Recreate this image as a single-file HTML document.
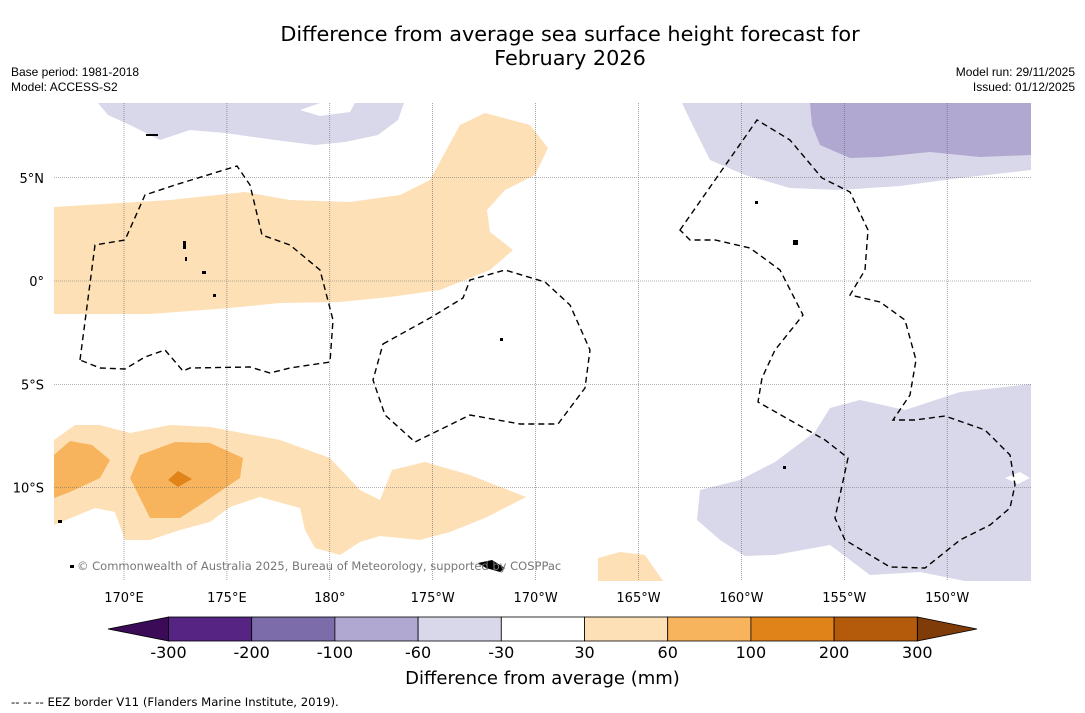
<!DOCTYPE html>
<html><head><meta charset="utf-8"><style>
body{margin:0;background:#fff;font-family:"DejaVu Sans","Liberation Sans",sans-serif;}
#wrap{position:relative;width:1085px;height:713px;overflow:hidden;background:#fff}
.t{position:absolute;white-space:nowrap;color:#000}
</style></head><body>
<div id="wrap">
<div class="t" style="left:0;width:1140px;top:22px;text-align:center;font-size:20.8px;line-height:24px">Difference from average sea surface height forecast for<br>February 2026</div>
<div class="t" style="left:11px;top:65px;font-size:12px;line-height:15px;font-family:'Liberation Sans',sans-serif">Base period: 1981-2018<br>Model: ACCESS-S2</div>
<div class="t" style="right:10px;top:65px;font-size:12px;line-height:15px;text-align:right;font-family:'Liberation Sans',sans-serif">Model run: 29/11/2025<br>Issued: 01/12/2025</div>
<svg id="map" width="1085" height="713" style="position:absolute;left:0;top:0">
<g>
<polygon fill="#d8d8ea" points="98,103 404,103 398,120 378,135 345,142 315,145 275,140 225,133 190,130 160,140 130,125 108,115"/>
<polygon fill="#fff" points="300,110 320,103 355,103 350,112 320,116"/>
<polygon fill="#d8d8ea" points="682,103 1031,103 1031,170 960,178 900,186 840,190 790,188 745,175 710,160 695,130"/>
<polygon fill="#b0a8d0" points="810,103 1031,103 1031,155 980,157 930,152 880,157 850,158 820,145 812,125"/>
<polygon fill="#d8d8ea" points="1031,384 1031,581 965,581 920,572 870,575 830,545 775,555 745,556 720,540 697,520 700,490 740,480 775,462 815,432 830,408 860,400 905,410 960,392"/>
<polygon fill="#fde0b6" points="54,207 170,200 245,192 290,200 350,202 400,195 430,180 460,125 485,113 530,125 548,148 535,175 505,190 487,210 490,232 513,250 490,270 440,290 390,297 340,302 280,303 230,308 150,314 54,314"/>
<polygon fill="#fde0b6" points="54,440 75,425 100,425 130,433 170,425 210,427 280,440 330,458 360,490 380,500 392,470 425,462 470,475 526,497 485,518 450,532 420,540 380,536 360,542 340,555 315,548 305,530 300,508 260,497 230,507 210,522 180,530 150,540 125,540 115,512 95,508 54,525"/>
<polygon fill="#f8b45c" points="54,455 70,441 92,445 110,460 100,478 70,492 54,498"/>
<polygon fill="#f8b45c" points="130,478 140,455 175,442 210,443 243,458 240,478 200,505 180,518 150,518 140,498"/>
<polygon fill="#e0841a" points="168,480 178,471 192,479 178,487"/>
<polygon fill="#fde0b6" points="598,558 620,552 645,555 663,581 598,581"/>
<polygon fill="#fff" points="1005,478 1020,472 1030,478 1018,484"/>
</g>
<g id="grid"></g>
<g fill="none" stroke="#000" stroke-width="1.4" stroke-dasharray="6,4">
<path d="M80,360 L95,245 L125,240 L145,195 L175,185 L237,166 L250,185 L262,235 L290,245 L320,270 L333,320 L330,362 L290,368 L270,373 L250,367 L190,368 L183,371 L165,350 L145,357 L125,369 L100,368 Z"/>
<path d="M383,344 L430,318 L463,298 L470,280 L505,270 L545,282 L570,305 L590,350 L585,388 L558,424 L520,424 L470,415 L415,442 L385,415 L373,380 Z"/>
<path d="M680,230 L757,120 L790,140 L822,178 L850,192 L868,230 L865,270 L850,295 L880,302 L905,320 L916,360 L910,395 L893,420 L915,420 L945,416 L985,430 L1010,455 L1015,485 L1010,508 L990,525 L960,540 L925,568 L890,567 L845,540 L835,518 L848,458 L825,440 L758,402 L762,378 L775,350 L803,315 L780,270 L750,248 L715,240 L690,240 Z"/>
</g>
<g fill="#000">
<rect x="146" y="134" width="12" height="2"/><rect x="183" y="241" width="3" height="8"/><rect x="185" y="257" width="2" height="4"/><rect x="202" y="271" width="4" height="3"/><rect x="213" y="294" width="3" height="3"/><rect x="755" y="201" width="3" height="3"/><rect x="793" y="240" width="5" height="5"/><rect x="783" y="466" width="3" height="3"/><rect x="500" y="338" width="3" height="3"/>
<polygon points="478,563 492,560 505,568 500,572 486,568"/><rect x="58" y="520" width="4" height="3"/><rect x="70" y="565" width="4" height="3"/>
</g>
<text x="77" y="570" font-size="11.5" fill="#777" font-family="DejaVu Sans">© Commonwealth of Australia 2025, Bureau of Meteorology, supported by COSPPac</text>
<g id="axes" font-size="13" font-family="DejaVu Sans"></g>
<g id="cbar"></g>
</svg>
<div class="t" style="left:0;width:1085px;top:668px;text-align:center;font-size:18px">Difference from average (mm)</div>
<div class="t" style="left:11px;top:695px;font-size:11.7px">--  --  -- EEZ border V11 (Flanders Marine Institute, 2019).</div>
</div>
<script>
const lonTicks=[170,175,180,185,190,195,200,205,210];
const lonLabels=["170°E","175°E","180°","175°W","170°W","165°W","160°W","155°W","150°W"];
const latTicks=[5,0,-5,-10];
const latLabels=["5°N","0°","5°S","10°S"];
const cbLevels=["-300","-200","-100","-60","-30","30","60","100","200","300"];
const cbColors=["#562483","#7c6ca9","#b0a8d0","#d8d8ea","#ffffff","#fde0b6","#f8b45c","#e0841a","#b35a0b"];
const NS="http://www.w3.org/2000/svg";
const x=lon=>124+(lon-170)*20.58, y=lat=>281-lat*20.65;
const mk=(t,a)=>{const e=document.createElementNS(NS,t);for(const k in a)e.setAttribute(k,a[k]);return e;};
const grid=document.getElementById('grid'),axes=document.getElementById('axes'),cb=document.getElementById('cbar');
lonTicks.forEach((l,i)=>{
 const ln=mk('line',{x1:x(l),x2:x(l),y1:103,y2:581,stroke:'#666','stroke-width':0.6,'stroke-dasharray':'1,1'});
 
 
 grid.appendChild(ln);
 const t=mk('text',{x:x(l),y:602,'text-anchor':'middle'});t.textContent=lonLabels[i];
 
 
 axes.appendChild(t);
});
latTicks.forEach((l,i)=>{
 const ln=mk('line',{x1:54,x2:1031,y1:y(l),y2:y(l),stroke:'#666','stroke-width':0.6,'stroke-dasharray':'1,1'});
 
 
 grid.appendChild(ln);
 const t=mk('text',{x:44,y:y(l)+5,'text-anchor':'end'});t.textContent=latLabels[i];
 
 
 axes.appendChild(t);
});
const cx0=168.5,cw=83.2,cy=617,ch=24;
const lt=mk('polygon',{points:`${cx0},${cy} ${cx0},${cy+ch} 108,${cy+ch/2}`,fill:'#3b0b58',stroke:'#000','stroke-width':0.8});
cb.appendChild(lt);
const xe=cx0+cw*cbColors.length;
const rt=mk('polygon',{points:`${xe},${cy} ${xe},${cy+ch} 977,${cy+ch/2}`,fill:'#7f3b08',stroke:'#000','stroke-width':0.8});
cb.appendChild(rt);
cbColors.forEach((c,i)=>{
 const r=mk('rect',{x:cx0+i*cw,y:cy,width:cw,height:ch,fill:c,stroke:'#000','stroke-width':0.8});
 
 
 cb.appendChild(r);
});
cbLevels.forEach((v,i)=>{
 const t=mk('text',{x:cx0+i*cw,y:658,'text-anchor':'middle','font-size':16,'font-family':'DejaVu Sans'});t.textContent=v;
 
 
 cb.appendChild(t);
});
</script>
</body></html>
